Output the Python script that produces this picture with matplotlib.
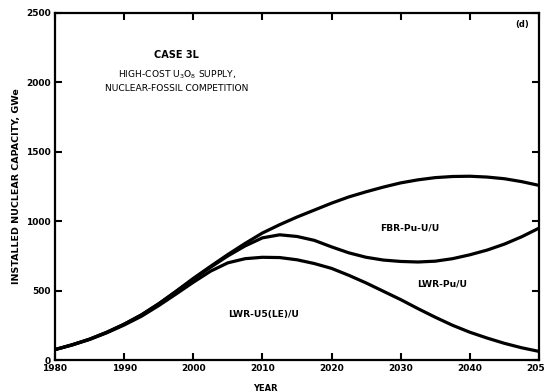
import matplotlib
matplotlib.use('Agg')
import matplotlib.pyplot as plt

# values (GWe), every 2.5 years
years = [1980, 1982.5, 1985, 1987.5, 1990, 1992.5, 1995, 1997.5, 2000, 2002.5,
         2005, 2007.5, 2010, 2012.5, 2015, 2017.5, 2020, 2022.5, 2025, 2027.5,
         2030, 2032.5, 2035, 2037.5, 2040, 2042.5, 2045, 2047.5, 2050]
total = [75, 110, 150, 200, 258, 325, 405, 495, 588, 675,
         760, 840, 915, 975, 1030, 1080, 1130, 1175, 1212, 1246,
         1276, 1298, 1314, 1322, 1324, 1318, 1306, 1285, 1258]
lwr_pu_top = [75, 110, 150, 200, 258, 325, 405, 493, 582, 668,
              750, 822, 880, 902, 890, 862, 815, 772, 740, 720,
              710, 706, 712, 730, 758, 792, 835, 888, 950]
lwr_u5 = [75, 108, 148, 196, 252, 315, 392, 475, 560, 640,
          700, 730, 740, 738, 722, 695, 660, 610, 555, 495,
          435, 370, 308, 250, 200, 158, 120, 88, 62]

region_labels = ['FBR-Pu-U/U', 'LWR-Pu/U', 'LWR-U5(LE)/U']
region_pos = [(2031.3, 950), (2036.0, 545), (2010.2, 330)]

xticks = [1980, 1990, 2000, 2010, 2020, 2030, 2040, 2050]
yticks = [0, 500, 1000, 1500, 2000, 2500]

plt.rcParams['font.family'] = ['DejaVu Sans']

fig = plt.figure(figsize=(5.44, 3.92), dpi=100)
ax = fig.add_axes([55 / 544, 32 / 392, 484 / 544, 347 / 392])

for ys in (total, lwr_pu_top, lwr_u5):
    ax.plot(years, ys, color='black', linewidth=2.3, solid_capstyle='round')

ax.set_xlim(1980, 2050)
ax.set_ylim(0, 2500)
ax.set_xticks(xticks)
ax.set_yticks(yticks)
ax.tick_params(direction='in', length=5, width=1.5, top=True, right=True,
               labelsize=6.5, pad=3)
for lbl in ax.get_xticklabels() + ax.get_yticklabels():
    lbl.set_fontweight('bold')
for sp in ax.spines.values():
    sp.set_linewidth(1.6)

ax.set_xlabel('YEAR', fontsize=6, fontweight='bold')
ax.xaxis.set_label_coords(0.434, -0.068)
ax.set_ylabel('INSTALLED NUCLEAR CAPACITY, GWe', fontsize=6.8, fontweight='bold', labelpad=4)

ax.text(1997.6, 2195, 'CASE 3L', fontsize=7, fontweight='bold', ha='center', va='center')
ax.text(1997.6, 2055, r'HIGH-COST U$_3$O$_8$ SUPPLY,', fontsize=6.6, ha='center', va='center')
ax.text(1997.6, 1955, 'NUCLEAR-FOSSIL COMPETITION', fontsize=6.6, ha='center', va='center')
ax.text(2048.5, 2420, '(d)', fontsize=6, fontweight='bold', ha='right', va='center')

for txt, (x, y) in zip(region_labels, region_pos):
    ax.text(x, y, txt, fontsize=6.6, fontweight='bold', ha='center', va='center')

fig.savefig('out.png', dpi=100)
